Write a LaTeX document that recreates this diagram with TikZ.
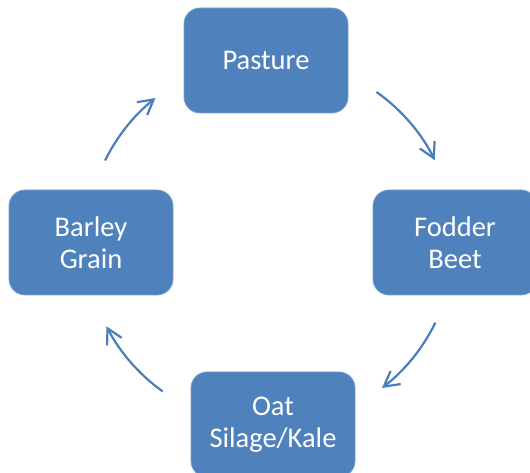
\documentclass[tikz,border=0pt]{standalone}
\usepackage{fontspec}
\setmainfont{Carlito}
\usetikzlibrary{arrows.meta}
\definecolor{boxblue}{HTML}{4F81BD}
\definecolor{arrowblue}{HTML}{4A7EBB}
\begin{document}
\begin{tikzpicture}[x=1pt,y=1pt,
  stage/.style={fill=boxblue, draw=boxblue!75!white, line width=0.8pt,
    rounded corners=16pt, minimum width=164pt, minimum height=105pt,
    text=white, font=\fontsize{28.5}{32}\selectfont, align=center, inner sep=0pt},
  cyc/.style={draw=arrowblue, line width=2.2pt,
    -{Straight Barb[angle=58:17pt, line width=2.2pt]}}]
\useasboundingbox (0,0) rectangle (530,473);
\node[stage] (pasture) at (266,412.5) {Pasture};
\node[stage] (fodder) at (455,230.5) {Fodder\\Beet};
\node[stage] (oat) at (273,48.5) {Oat\\Silage/Kale};
\node[stage] (barley) at (91,230.5) {Barley\\Grain};
\coordinate (c) at (270,231);
\path (c) ++(54.6:184pt) coordinate (a1s);
\path (c) ++(-26:184pt) coordinate (a2s);
\path (c) ++(-125.7:184pt) coordinate (a3s);
\path (c) ++(153.7:184pt) coordinate (a4s);
\draw[cyc] (a1s) arc[start angle=54.6, end angle=26.4, radius=184pt];
\draw[cyc] (a2s) arc[start angle=-26, end angle=-52.5, radius=184pt];
\draw[cyc] (a3s) arc[start angle=-125.7, end angle=-152.7, radius=184pt];
\draw[cyc] (a4s) arc[start angle=153.7, end angle=128.5, radius=184pt];
\end{tikzpicture}
\end{document}
